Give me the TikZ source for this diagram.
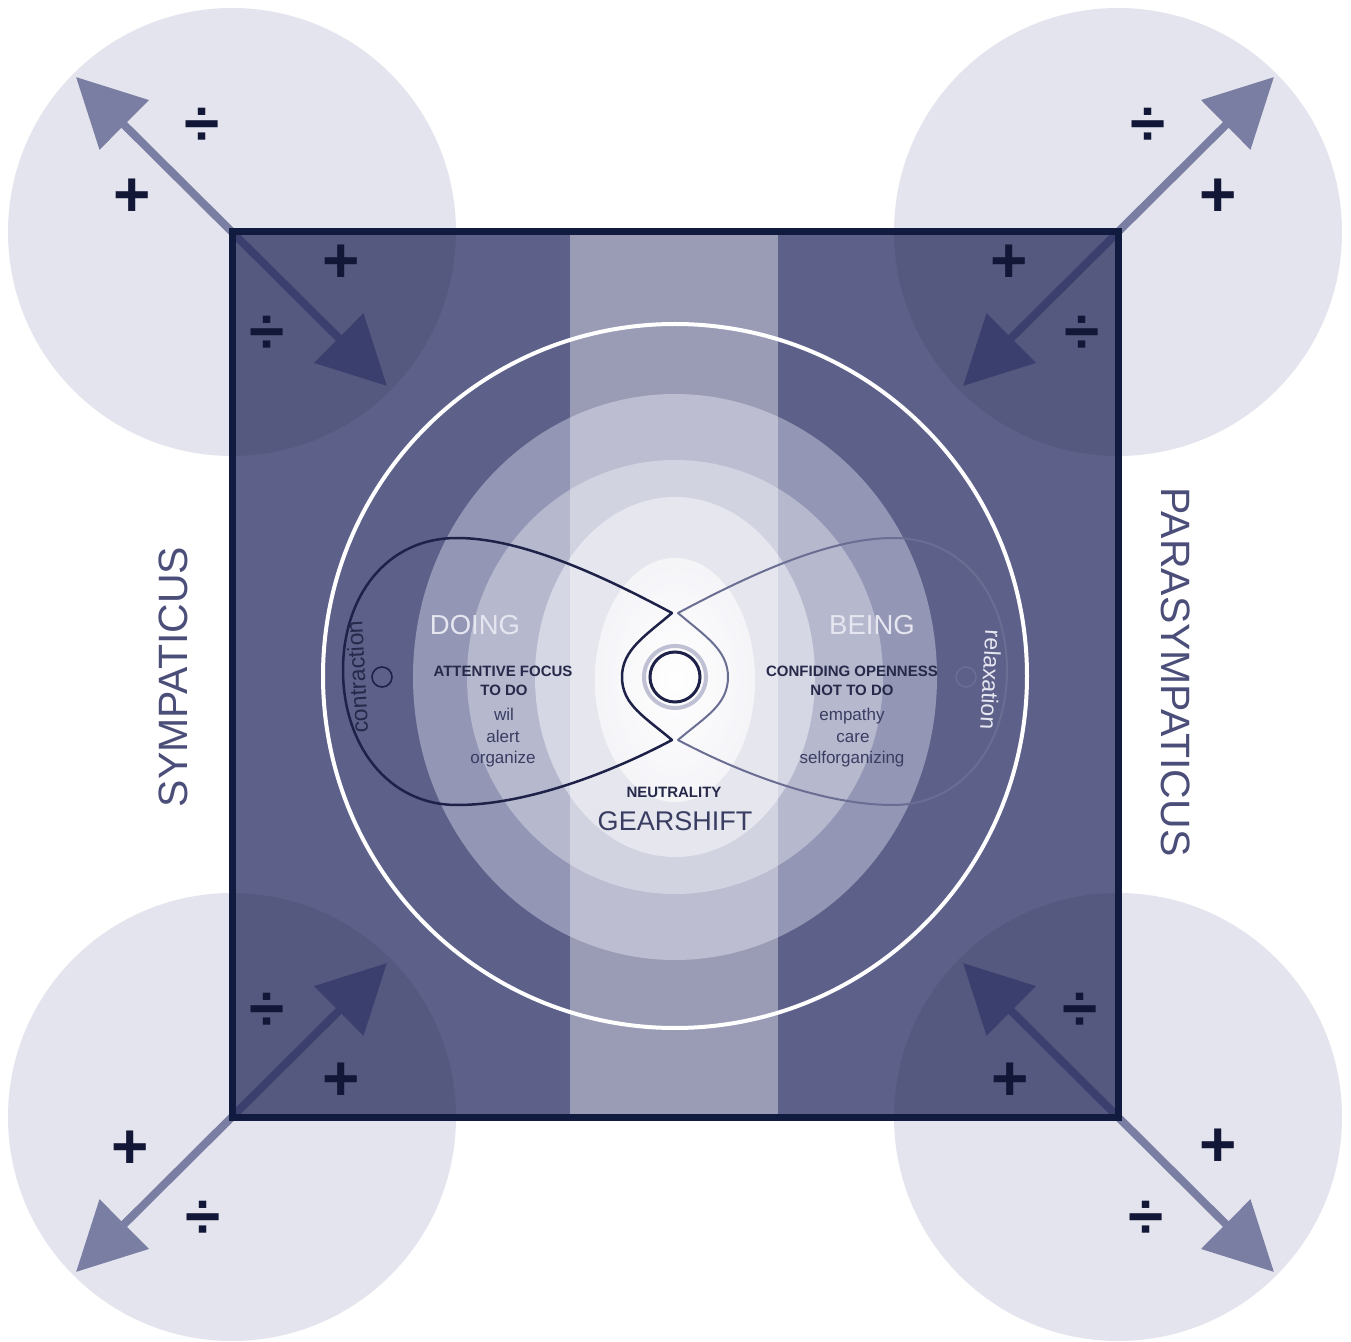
\documentclass[tikz,border=0pt]{standalone}
\usepackage{fontspec}
\setmainfont{Liberation Sans}
\usetikzlibrary{arrows.meta}
\definecolor{circ}{HTML}{E4E4EE}
\definecolor{base}{HTML}{5D6089}
\definecolor{Lone}{HTML}{9496B5}
\definecolor{Ltwo}{HTML}{B6B8CE}
\definecolor{Lthree}{HTML}{D6D7E4}
\definecolor{Lfour}{HTML}{EFEFF5}
\definecolor{bordercol}{HTML}{111A3F}
\definecolor{arrowlight}{HTML}{7B7EA3}
\definecolor{arrowdark}{HTML}{3B3F6D}
\definecolor{symcol}{HTML}{121737}
\definecolor{lineL}{HTML}{1E2248}
\definecolor{lineR}{HTML}{6B6E93}
\definecolor{txtdark}{HTML}{262949}
\definecolor{txtmid}{HTML}{3A3D62}
\definecolor{txtwhite}{HTML}{E6E6F0}
\definecolor{sidecol}{HTML}{4B4E78}
\definecolor{halo}{HTML}{B0B2CA}
\tikzset{
  outarrow/.style={draw=arrowlight, line width=4pt, -{Triangle[length=34pt,width=34pt]}},
  inarrow/.style={draw=arrowdark, line width=4pt, -{Triangle[length=34pt,width=34pt]}},
  sym/.style={inner sep=0pt, text=symcol, font=\fontsize{32pt}{34pt}\selectfont\bfseries},
  bigword/.style={inner sep=0pt, text=txtwhite, font=\fontsize{13.75pt}{16pt}\selectfont},
  boldlab/.style={inner sep=0pt, text=txtdark, font=\fontsize{7.5pt}{9pt}\selectfont\bfseries},
  smalllab/.style={inner sep=0pt, text=txtmid, font=\fontsize{8.5pt}{10pt}\selectfont},
  sidelab/.style={inner sep=0pt, text=sidecol, font=\fontsize{20.5pt}{24pt}\selectfont},
  looplab/.style={inner sep=0pt, font=\fontsize{11.5pt}{13pt}\selectfont},
}
\begin{document}
\begin{tikzpicture}[x=0.5pt,y=-0.5pt]
\useasboundingbox (0,0) rectangle (1351,1342);
\fill[white] (0,0) rectangle (1351,1342);
% corner circles
\foreach \p in {(232,232),(1118,232),(232,1117),(1118,1117)}
  \fill[circ] \p circle[radius=224];
% square
\fill[base] (232,232) rectangle (1118,1117);
\begin{scope}
  \clip (232,232) rectangle (1118,1117);
  \foreach \p in {(232,232),(1118,232),(232,1117),(1118,1117)}
    \fill[black,opacity=0.07] \p circle[radius=224];
\end{scope}
% concentric layers
\fill[Lone] (675,677) ellipse [x radius=262, y radius=283];
\fill[Ltwo] (675,677) ellipse [x radius=208, y radius=217];
\fill[Lthree] (675,677) ellipse [x radius=140, y radius=180];
\shade[inner color=white, outer color=Lfour] (675,680) ellipse [x radius=80, y radius=122];
% middle band
\fill[white,opacity=0.38] (570,232) rectangle (778,1117);
% white circle
\draw[white,line width=2pt] (675,676) circle[radius=352];
% arrows
\coordinate (tl) at (232,232);
\coordinate (tr) at (1118,232);
\coordinate (bl) at (232,1117);
\coordinate (br) at (1118,1117);
\coordinate (tlo) at (76,77);
\coordinate (tli) at (387,386);
\coordinate (tro) at (1274,77);
\coordinate (tri) at (963,386);
\coordinate (blo) at (76,1272);
\coordinate (bli) at (387,963);
\coordinate (bro) at (1274,1272);
\coordinate (bri) at (963,963);
\draw[outarrow] (tl) -- (tlo);
\draw[inarrow] (tl) -- (tli);
\draw[outarrow] (tr) -- (tro);
\draw[inarrow] (tr) -- (tri);
\draw[outarrow] (bl) -- (blo);
\draw[inarrow] (bl) -- (bli);
\draw[outarrow] (br) -- (bro);
\draw[inarrow] (br) -- (bri);
% border
\draw[bordercol,line width=3.5pt] (232,232) rectangle (1118,1117);
% symbols
\node[sym] (s1) at (202,127) {÷};
\node[sym] (s2) at (132,198) {+};
\node[sym] (s3) at (341,264) {+};
\node[sym] (s4) at (267,335) {÷};
\node[sym] (s5) at (1148,127) {÷};
\node[sym] (s6) at (1218,198) {+};
\node[sym] (s7) at (1009,264) {+};
\node[sym] (s8) at (1082,335) {÷};
\node[sym] (s9) at (267,1012) {÷};
\node[sym] (s10) at (341,1082) {+};
\node[sym] (s11) at (130,1150) {+};
\node[sym] (s12) at (203,1220) {÷};
\node[sym] (s13) at (1080,1012) {÷};
\node[sym] (s14) at (1010,1082) {+};
\node[sym] (s15) at (1218,1148) {+};
\node[sym] (s16) at (1146,1220) {÷};
% loops
\draw[lineR,line width=1pt,line cap=round,line join=round]
  (678,613) .. controls (740,580) and (825,538) .. (893,538)
  .. controls (965,538) and (1007,598) .. (1007,670)
  .. controls (1007,745) and (962,805) .. (893,805)
  .. controls (823,805) and (738,772) .. (678,740)
  .. controls (705,717) and (728,705) .. (728,677)
  .. controls (728,650) and (705,636) .. (678,613);
\draw[lineL,line width=1.25pt,line cap=round,line join=round]
  (672,613) .. controls (610,580) and (525,538) .. (457,538)
  .. controls (385,538) and (343,598) .. (343,670)
  .. controls (343,745) and (388,805) .. (457,805)
  .. controls (527,805) and (612,772) .. (672,740)
  .. controls (645,717) and (622,705) .. (622,677)
  .. controls (622,650) and (645,636) .. (672,613);
% circles
\draw[halo,line width=2pt,opacity=0.8] (675,677) circle[radius=31];
\node[draw=lineL,line width=1.5pt,circle,minimum size=25pt,inner sep=0pt] (core) at (675,677) {};
\node[draw=lineL,line width=0.8pt,circle,minimum size=10pt,inner sep=0pt] (cl) at (382,677) {};
\node[draw=lineR,line width=0.8pt,circle,minimum size=10pt,inner sep=0pt] (cr) at (966,677) {};
% texts
\node[bigword] (doing) at (475,625) {DOING};
\node[boldlab] (af) at (503,671) {ATTENTIVE FOCUS};
\node[boldlab] (todo) at (504,690) {TO DO};
\node[smalllab,anchor=base] (wil) at (504,720) {wil};
\node[smalllab,anchor=base] (alert) at (503,742) {alert};
\node[smalllab,anchor=base] (org) at (503,763) {organize};
\node[bigword] (being) at (872,625) {BEING};
\node[boldlab] (co) at (852,671) {CONFIDING OPENNESS};
\node[boldlab] (ntd) at (852,690) {NOT TO DO};
\node[smalllab,anchor=base] (emp) at (852,720) {empathy};
\node[smalllab,anchor=base] (care) at (853,742) {care};
\node[smalllab,anchor=base] (self) at (852,763) {selforganizing};
\node[boldlab] (neu) at (674,792) {NEUTRALITY};
\node[inner sep=0pt,text=txtmid,font=\fontsize{13.5pt}{16pt}\selectfont] (gear) at (675,821) {GEARSHIFT};
\node[looplab,text=txtdark,rotate=93] (contr) at (357,677) {contraction};
\node[looplab,text=txtwhite,rotate=-93] (relax) at (991,680) {relaxation};
\node[sidelab,rotate=90] (symp) at (173,677) {SYMPATICUS};
\node[sidelab,rotate=-90] (para) at (1176,672) {PARASYMPATICUS};
\end{tikzpicture}
\end{document}
